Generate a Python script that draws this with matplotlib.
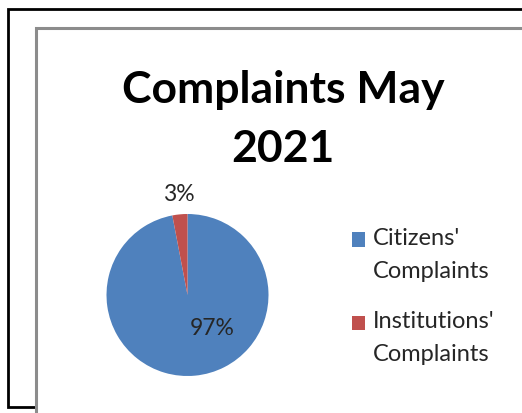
import matplotlib
matplotlib.use("Agg")
import matplotlib.pyplot as plt
from matplotlib.patches import Rectangle
from matplotlib.legend_handler import HandlerPatch

categories = ["Citizens'\nComplaints", "Institutions'\nComplaints"]
values = [97, 3]
pct_labels = ["97%", "3%"]
colors = ["#4F81BD", "#C0504D"]
title = "Complaints May\n2021"

W, H = 522, 414
fig = plt.figure(figsize=(W / 100, H / 100), dpi=100)
plt.rcParams['font.family'] = ['Lato', 'DejaVu Sans']

def fx(x):
    return x / W

def fy(y):
    return 1 - y / H

# outer black frame
fig.add_artist(Rectangle((fx(8), fy(408)), fx(600) - fx(8), fy(10) - fy(408),
                         transform=fig.transFigure, facecolor='white',
                         edgecolor='black', linewidth=2, zorder=-20))
# inner chart area frame
fig.add_artist(Rectangle((fx(36), fy(440)), fx(600) - fx(36), fy(29) - fy(440),
                         transform=fig.transFigure, facecolor='white',
                         edgecolor='#8c8c8c', linewidth=2.2, zorder=-10))

fig.text(fx(283), fy(162), title, ha='center', va='baseline', fontsize=32,
         fontweight='bold', color='black', linespacing=1.57)

cx, cy, r = 187.5, 296, 81
ax = fig.add_axes([fx(cx - r), fy(cy + r), (2 * r) / W, (2 * r) / H])
wedges, texts = ax.pie(values, colors=colors, startangle=90, counterclock=False,
                       radius=1.0, wedgeprops=dict(linewidth=0))
ax.set_xlim(-1, 1)
ax.set_ylim(-1, 1)
ax.set_aspect('auto')
ax.axis('off')

label_pos = [(0.30, -0.40), (-0.11, 1.247)]
for lab, (px, py) in zip(pct_labels, label_pos):
    ax.text(px, py, lab, ha='center', va='center', fontsize=16.5, color='#262626')


class TopSquare(HandlerPatch):
    """Square handle aligned with the first line of a two-line label."""
    def create_artists(self, legend, orig_handle, xdescent, ydescent,
                       width, height, fontsize, trans):
        shift = 10.5
        p = Rectangle((-xdescent, -ydescent + shift), width, height,
                      facecolor=orig_handle.get_facecolor(), edgecolor='none',
                      transform=trans)
        return [p]


leg_fs = 17
leg = fig.legend(wedges, categories, loc='upper left',
                 bbox_to_anchor=(fx(352), fy(228)), frameon=False,
                 fontsize=leg_fs, handlelength=0.55, handleheight=0.55,
                 handletextpad=0.34, labelspacing=1.25, borderaxespad=0,
                 borderpad=0, handler_map={w: TopSquare() for w in wedges})
for t in leg.get_texts():
    t.set_color('#262626')
    t.set_linespacing(1.7)

fig.savefig("out.png", dpi=100)
